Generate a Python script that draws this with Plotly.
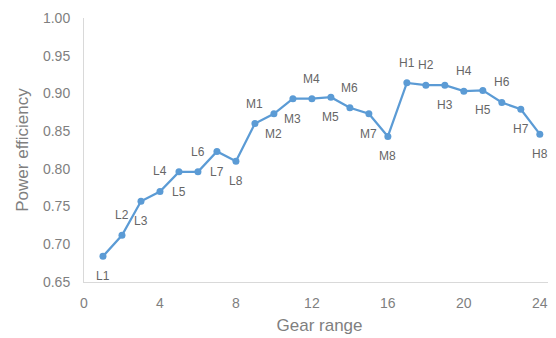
import plotly.graph_objects as go

gears = list(range(1, 25))
efficiency = [0.684, 0.712, 0.757, 0.770, 0.796, 0.796, 0.823, 0.810,
              0.860, 0.873, 0.893, 0.893, 0.895, 0.881, 0.873, 0.843,
              0.914, 0.911, 0.911, 0.903, 0.904, 0.888, 0.879, 0.846]
labels = ["L1", "L2", "L3", "L4", "L5", "L6", "L7", "L8",
          "M1", "M2", "M3", "M4", "M5", "M6", "M7", "M8",
          "H1", "H2", "H3", "H4", "H5", "H6", "H7", "H8"]
label_side = ["below", "above", "below", "above", "below", "above", "below", "below",
              "above", "below", "below", "above", "below", "above", "below", "below",
              "above", "above", "below", "above", "below", "above", "below", "below"]
x_ticks = [0, 4, 8, 12, 16, 20, 24]

blue = "#5B9BD5"
gray = "#7f7f7f"
font = "Liberation Sans, Arial, sans-serif"

fig = go.Figure()
fig.add_trace(go.Scatter(
    x=gears, y=efficiency, mode="lines+markers",
    line=dict(color=blue, width=2.25),
    marker=dict(color=blue, size=7),
    showlegend=False,
))

for xg, yv, lab, side in zip(gears, efficiency, labels, label_side):
    fig.add_annotation(
        x=xg, y=yv, text=lab, showarrow=False,
        yshift=20 if side == "above" else -20,
        font=dict(family=font, size=12, color="#666666"),
    )

# the page body adds an 8px offset, so the figure is sized to fit inside it
fig.update_layout(
    width=548, height=330,
    margin=dict(l=76, r=1, t=10, b=56),
    plot_bgcolor="white", paper_bgcolor="white",
    font=dict(family=font, color=gray),
)
fig.update_xaxes(
    range=[0, 24.8], tickvals=x_ticks, showgrid=False, zeroline=False,
    showline=True, linecolor="#d9d9d9", linewidth=1,
    tickfont=dict(size=14, color=gray), ticklabelstandoff=8,
    title=dict(text="Gear range", font=dict(size=17, color=gray), standoff=9),
)
fig.update_yaxes(
    range=[0.65, 1.0], dtick=0.05, tickformat=".2f", showgrid=False, zeroline=False,
    showline=True, linecolor="#d9d9d9", linewidth=1,
    tickfont=dict(size=14, color=gray), ticklabelstandoff=10,
    title=dict(text="Power efficiency", font=dict(size=17, color=gray), standoff=10),
)

fig.write_html("out.html")
